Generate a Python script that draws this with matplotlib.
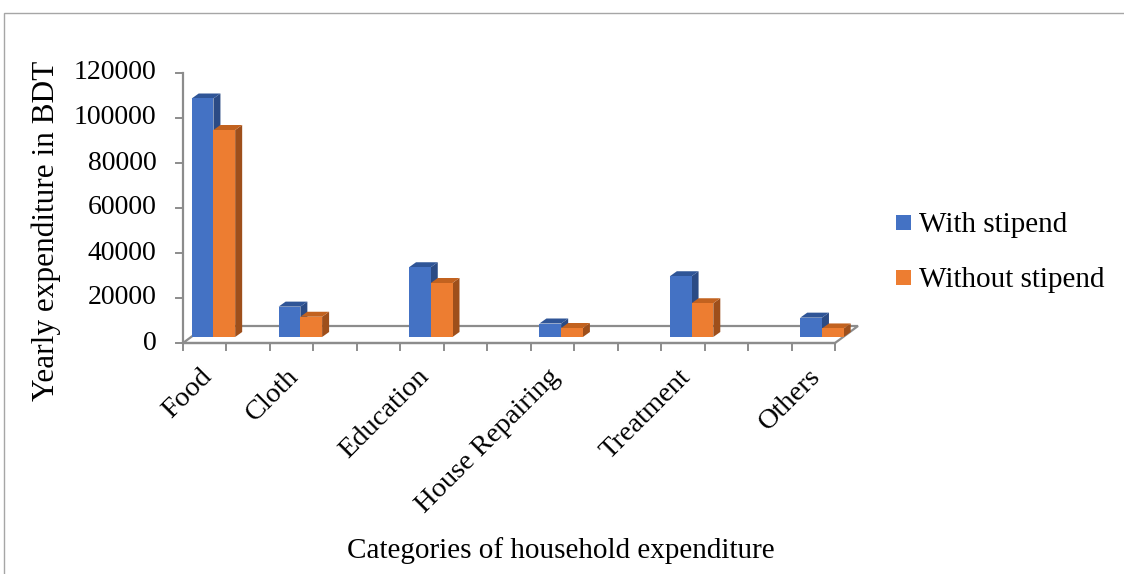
import matplotlib
matplotlib.use('Agg')
import matplotlib.pyplot as plt
import numpy as np
from matplotlib.patches import Polygon, Rectangle

# 数据：Excel 三维柱形图，空白类别用 nan 占位
categories = ['Food', '', 'Cloth', '', '', 'Education', '', '',
              'House Repairing', '', '', 'Treatment', '', '', 'Others']
with_stipend = [106000, np.nan, 13500, np.nan, np.nan, 31000, np.nan, np.nan,
                6000, np.nan, np.nan, 27000, np.nan, np.nan, 8600]
without_stipend = [92000, np.nan, 9000, np.nan, np.nan, 24000, np.nan, np.nan,
                   4000, np.nan, np.nan, 15000, np.nan, np.nan, 3800]
series_names = ['With stipend', 'Without stipend']
y_ticks = [0, 20000, 40000, 60000, 80000, 100000, 120000]

plt.rcParams['font.family'] = ['Liberation Serif', 'DejaVu Serif']

W, H = 1124, 574
fig = plt.figure(figsize=(W / 100, H / 100), dpi=100)
ax = fig.add_axes([183 / W, (H - 343) / H, 652 / W, 270 / H])
ax.set_xlim(-0.5, len(categories) - 0.5)
ax.set_ylim(0, 120000)
ax.axis('off')


def px(dx, dy):
    # 像素偏移换算成数据坐标偏移
    x0, y0 = ax.transData.transform((0, 0))
    x1, y1 = ax.transData.inverted().transform((x0 + dx, y0 + dy))
    return x1, y1


axis_col = '#8c8c8c'
x_lo, x_hi = -0.5, len(categories) - 0.5

# 底面（地板）
fdx, fdy = px(23, 17)
floor = Polygon([(x_lo, 0), (x_hi, 0), (x_hi + fdx, fdy), (x_lo + fdx, fdy)],
                closed=True, facecolor='white', edgecolor=axis_col, lw=1.6,
                zorder=1, clip_on=False)
ax.add_patch(floor)

# 柱子
odx, ody = px(8.7, 6)      # 柱子在深度方向的位置
ddx, ddy = px(7, 5)        # 柱子自身厚度
bw = 0.5
colors = [('#4472C4', '#2F5597', '#2B4B85'), ('#ED7D31', '#C2621F', '#9E4F1B')]
z = 3
for s, vals in enumerate([with_stipend, without_stipend]):
    front, top, side = colors[s]
    for i, v in enumerate(vals):
        if np.isnan(v):
            continue
        xl = i - 0.5 + s * bw + odx
        yb = ody
        yt = ody + v
        ax.add_patch(Polygon([(xl + bw, yb), (xl + bw + ddx, yb + ddy),
                              (xl + bw + ddx, yt + ddy), (xl + bw, yt)],
                             closed=True, facecolor=side, edgecolor='none',
                             zorder=z, clip_on=False))
        ax.add_patch(Polygon([(xl, yt), (xl + bw, yt), (xl + bw + ddx, yt + ddy),
                              (xl + ddx, yt + ddy)],
                             closed=True, facecolor=top, edgecolor='none',
                             zorder=z, clip_on=False))
        ax.bar(xl, v, width=bw, bottom=yb, align='edge', color=front,
               edgecolor='none', zorder=z + 0.5, clip_on=False)
    z += 1

# 坐标轴线与刻度
ax.plot([x_lo, x_hi], [0, 0], color=axis_col, lw=1.6, zorder=10, clip_on=False)
ax.plot([x_lo, x_lo], [0, 120000], color=axis_col, lw=1.6, zorder=10, clip_on=False)
tkx, _ = px(7, 0)
_, tky = px(0, 7)
for t in y_ticks:
    ax.plot([x_lo - tkx, x_lo], [t, t], color=axis_col, lw=1.4, clip_on=False)
    ax.annotate(f'{t}', xy=(x_lo, t), xytext=(-19, 0), textcoords='offset points',
                ha='right', va='center', fontsize=20, annotation_clip=False)
for b in np.arange(x_lo, x_hi + 0.01, 1.0):
    ax.plot([b, b], [0, -tky], color=axis_col, lw=1.4, clip_on=False)

for i, name in enumerate(categories):
    if name:
        ax.annotate(name, xy=(i, 0), xytext=(5.9, -25), textcoords='offset points',
                    rotation=45, rotation_mode='anchor', ha='right', va='baseline',
                    fontsize=20.5, annotation_clip=False)

fig.text(46 / W, 1 - 231 / H, 'Yearly expenditure in BDT', rotation=90,
         ha='center', va='center', fontsize=22.5)
fig.text(561 / W, 1 - 551 / H, 'Categories of household expenditure',
         ha='center', va='center', fontsize=21)

# 图例
for k, name in enumerate(series_names):
    yc = 222 + 55 * k
    fig.add_artist(Rectangle((896 / W, 1 - (yc + 7.5) / H), 15 / W, 15 / H,
                             transform=fig.transFigure, facecolor=colors[k][0],
                             edgecolor='none'))
    fig.text(919 / W, 1 - yc / H, name, ha='left', va='center_baseline', fontsize=21)

# 外框
fig.add_artist(Rectangle((4 / W, -0.1), 1.2, (H - 13) / H + 0.1,
                         transform=fig.transFigure, fill=False,
                         edgecolor='#a6a6a6', lw=1))

fig.savefig('out.png', dpi=100)
